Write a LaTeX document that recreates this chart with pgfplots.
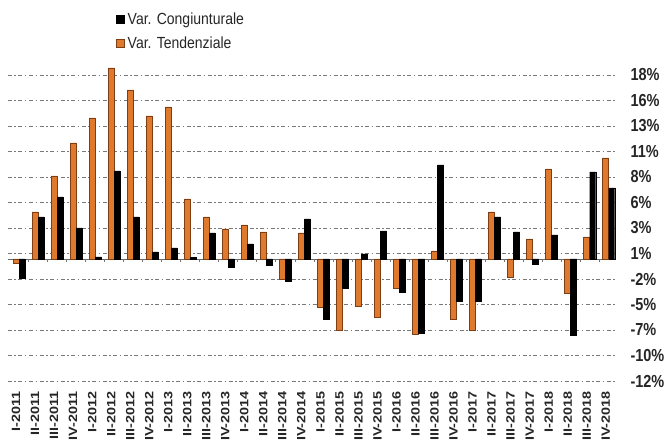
\documentclass[border=0pt]{standalone}
\usepackage{pgfplots}
\pgfplotsset{compat=1.18}
\usepackage{fontspec}
\setmainfont{Liberation Sans}
\usepackage{graphicx}
\definecolor{orb}{RGB}{222,121,45}
\definecolor{orbd}{RGB}{125,62,20}
\definecolor{gridc}{RGB}{120,120,120}
\newcommand{\xl}[1]{\scalebox{1.2}[1]{\textbf{#1}}}
\newcommand{\yl}[1]{\scalebox{1}[1.2]{\textbf{#1}}}
\begin{document}
\begin{tikzpicture}
\path[use as bounding box] (-8pt,-57pt) rectangle (662pt,389pt);
\begin{axis}[
  at={(0pt,0pt)}, anchor=south west,
  scale only axis, width=607pt, height=326pt,
  xmin=-0.58, xmax=31.33, ymin=-13, ymax=19.6,
  axis line style={draw=none},
  major tick length=0pt, minor tick length=0pt,
  xtick={0,...,31},
  xticklabels={\xl{I-2011},\xl{II-2011},\xl{III-2011},\xl{IV-2011},
    \xl{I-2012},\xl{II-2012},\xl{III-2012},\xl{IV-2012},
    \xl{I-2013},\xl{II-2013},\xl{III-2013},\xl{IV-2013},
    \xl{I-2014},\xl{II-2014},\xl{III-2014},\xl{IV-2014},
    \xl{I-2015},\xl{II-2015},\xl{III-2015},\xl{IV-2015},
    \xl{I-2016},\xl{II-2016},\xl{III-2016},\xl{IV-2016},
    \xl{I-2017},\xl{II-2017},\xl{III-2017},\xl{IV-2017},
    \xl{I-2018},\xl{II-2018},\xl{III-2018},\xl{IV-2018}},
  xticklabel style={font=\fontsize{12}{12}\selectfont, xshift=-3pt, rotate=90, anchor=east, inner sep=2pt, text=black!85},
  ytick={18.4,15.85,13.3,10.75,8.2,5.65,3.1,0.55,-2,-4.55,-7.1,-9.65,-12.2},
  yticklabels={\yl{18\%},\yl{16\%},\yl{13\%},\yl{11\%},\yl{8\%},\yl{6\%},\yl{3\%},\yl{1\%},\yl{-2\%},\yl{-5\%},\yl{-7\%},\yl{-10\%},\yl{-12\%}},
  yticklabel pos=right,
  yticklabel style={font=\fontsize{14.5}{14.5}\selectfont, anchor=west, xshift=12pt, text=black!85},
  ymajorgrids,
  major grid style={draw=gridc, line width=0.9pt, dash pattern=on 4pt off 2.5pt on 1.5pt off 2.5pt},
  extra y ticks={0}, extra y tick labels={},
  extra y tick style={major grid style={draw=black!60, solid, line width=0.9pt}},
  legend style={at={(axis description cs:0.177,1.16)}, anchor=north west, draw=none, fill=none, inner sep=0pt, row sep=8pt, font=\fontsize{14}{14}\selectfont, text=black!85, nodes={inner sep=1.5pt}},
  legend cell align=left,
  reverse legend,
  legend image code/.code={\draw[#1] (0pt,-4pt) rectangle (8pt,4pt); \path (10pt,0pt);},
  clip=false,
]
\addplot[forget plot, ycomb, draw=black!55, line width=0.7pt, mark=none] coordinates {
(0.5,-0.35) (1.5,-0.35) (2.5,-0.35) (3.5,-0.35) (4.5,-0.35) (5.5,-0.35) (6.5,-0.35) (7.5,-0.35)
(8.5,-0.35) (9.5,-0.35) (10.5,-0.35) (11.5,-0.35) (12.5,-0.35) (13.5,-0.35) (14.5,-0.35) (15.5,-0.35)
(16.5,-0.35) (17.5,-0.35) (18.5,-0.35) (19.5,-0.35) (20.5,-0.35) (21.5,-0.35) (22.5,-0.35) (23.5,-0.35)
(24.5,-0.35) (25.5,-0.35) (26.5,-0.35) (27.5,-0.35) (28.5,-0.35) (29.5,-0.35) (30.5,-0.35)};
\addplot[ybar, bar width=6pt, bar shift=-3pt, fill=orb, draw=orbd, line width=0.6pt] coordinates {
(0,-0.4) (1,4.7) (2,8.3) (3,11.6) (4,14.1) (5,19.1) (6,16.9) (7,14.3)
(8,15.2) (9,6.0) (10,4.2) (11,3.0) (12,3.4) (13,2.7) (14,-2.0) (15,2.6)
(16,-4.8) (17,-7.1) (18,-4.7) (19,-5.8) (20,-2.9) (21,-7.5) (22,0.8) (23,-6.0)
(24,-7.1) (25,4.7) (26,-1.8) (27,2.0) (28,9.0) (29,-3.4) (30,2.2) (31,10.1)};
\addlegendentry{\scalebox{1}[1.15]{Var. Tendenziale}}
\addplot[ybar, bar width=6pt, bar shift=3pt, fill=black, draw=black, line width=0.4pt] coordinates {
(0,-1.9) (1,4.2) (2,6.2) (3,3.1) (4,0.2) (5,8.8) (6,4.2) (7,0.7)
(8,1.1) (9,0.15) (10,2.6) (11,-0.8) (12,1.5) (13,-0.6) (14,-2.2) (15,4.0)
(16,-6.0) (17,-2.9) (18,0.5) (19,2.8) (20,-3.3) (21,-7.4) (22,9.4) (23,-4.2)
(24,-4.2) (25,4.2) (26,2.7) (27,-0.5) (28,2.4) (29,-7.6) (30,8.7) (31,7.1)};
\addlegendentry{\scalebox{1}[1.15]{Var. Congiunturale}}
\end{axis}
\end{tikzpicture}
\end{document}
